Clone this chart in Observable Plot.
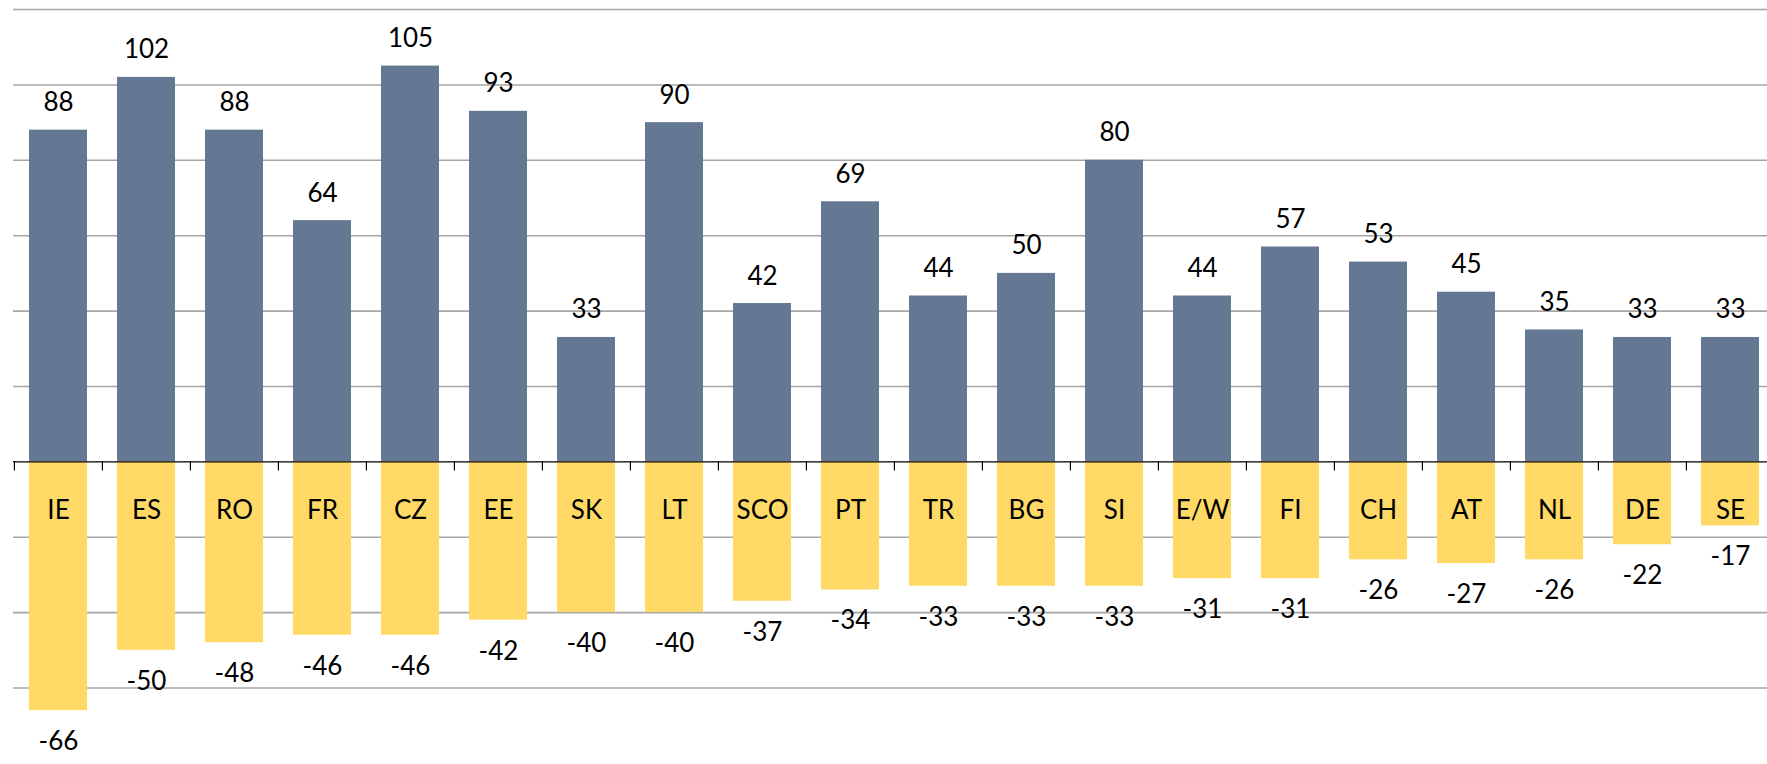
<!DOCTYPE html>
<html>
<head>
<meta charset="utf-8">
<script src="https://cdn.jsdelivr.net/npm/d3@7"></script>
<script src="https://cdn.jsdelivr.net/npm/@observablehq/plot@0.6"></script>
<style>
  html, body { margin: 0; padding: 0; background: #fff; overflow: hidden; }
  #chart svg { display: block; }
</style>
</head>
<body>
<div id="chart"></div>
<script>
const categories = ["IE","ES","RO","FR","CZ","EE","SK","LT","SCO","PT","TR","BG","SI","E/W","FI","CH","AT","NL","DE","SE"];
const positiveValues = [88,102,88,64,105,93,33,90,42,69,44,50,80,44,57,53,45,35,33,33];
const negativeValues = [-66,-50,-48,-46,-46,-42,-40,-40,-37,-34,-33,-33,-33,-31,-31,-26,-27,-26,-22,-17];
const gridTicks = [120,100,80,60,40,20,-20,-40,-60];

const pos = categories.map((c, i) => ({cat: c, value: positiveValues[i]}));
const neg = categories.map((c, i) => ({cat: c, value: negativeValues[i]}));

const W = 1767, H = 764;
const xRange = [12.5, 1775.7];
const step = (xRange[1] - xRange[0]) / categories.length;
const font = "Lato, 'Open Sans', sans-serif";

const chart = Plot.plot({
  width: W,
  height: H,
  marginTop: 0,
  marginBottom: 0,
  marginLeft: 13,
  marginRight: 0,
  style: {fontFamily: font, background: "#fff", overflow: "hidden"},
  x: {domain: categories, range: xRange, paddingInner: 0.34, paddingOuter: 0.17, align: 0.5, axis: null},
  y: {domain: [-80.3, 122.4], range: [H, 0], axis: null},
  marks: [
    Plot.ruleY(gridTicks, {stroke: "#a6a6a6", strokeWidth: 1.6}),
    Plot.barY(pos, {x: "cat", y: "value", fill: "#647894"}),
    Plot.barY(neg, {x: "cat", y: "value", fill: "#FFD966"}),
    Plot.ruleY([0], {stroke: "#000", strokeWidth: 1.2}),
    Plot.ruleX(categories, {x: d => d, y1: 0, y2: -2.4, dx: -step / 2, stroke: "#000", strokeWidth: 1.2}),
    Plot.text(pos, {x: "cat", y: "value", text: d => String(d.value), lineAnchor: "bottom", dy: -19, fontSize: 26, fill: "#000"}),
    Plot.text(neg, {x: "cat", y: "value", text: d => String(d.value), lineAnchor: "top", dy: 21, fontSize: 26, fill: "#000"}),
    Plot.text(categories, {x: d => d, y: 0, text: d => d, lineAnchor: "bottom", dy: 57, fontSize: 26, fill: "#000"})
  ]
});
document.getElementById("chart").appendChild(chart);
</script>
</body>
</html>
